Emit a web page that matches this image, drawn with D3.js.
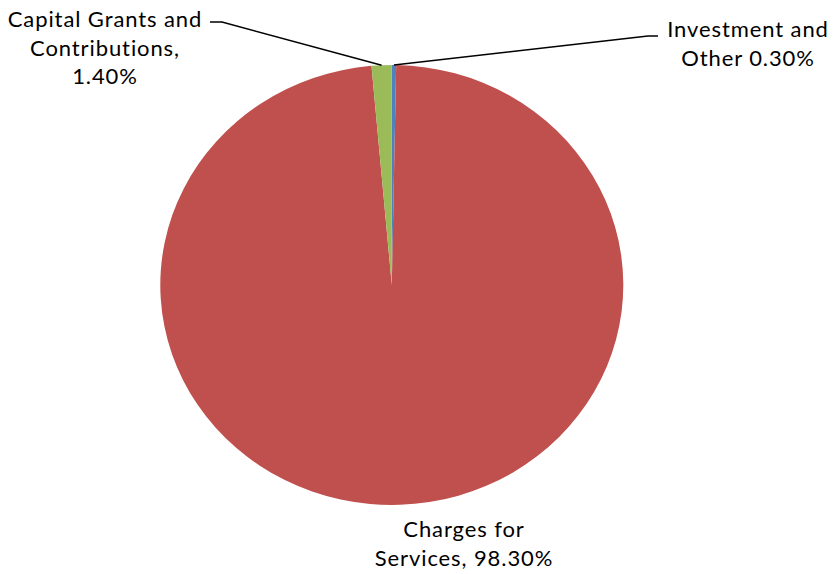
<!DOCTYPE html>
<html>
<head>
<meta charset="utf-8">
<script src="https://cdn.jsdelivr.net/npm/d3@7"></script>
<style>
  body { margin: 0; background: #fff; }
</style>
</head>
<body>
<script>
// Slices in drawing order, clockwise from 12 o'clock
var categories = ["Investment and Other", "Charges for Services", "Capital Grants and Contributions"];
var values = [0.3, 98.3, 1.4];
var colors = ["#4F81BD", "#C0504D", "#9BBB59"];
var labelLines = [
    ["Investment and", "Other 0.30%"],
    ["Charges for", "Services, 98.30%"],
    ["Capital Grants and", "Contributions,", "1.40%"]
];

var svgWidth = 833;
var svgHeight = 574;

var svg = d3.select("body")
    .append("svg")
    .attr("width", svgWidth)
    .attr("height", svgHeight);

// pie is slightly squashed vertically, like the original
var cx = 391.8, cy = 285;
var rx = 231.5, ry = 220;

var pie = d3.pie().sort(null).value(d => d);
var arcs = pie(values);

var arc = d3.arc().innerRadius(0).outerRadius(rx);

var pieGroup = svg.append("g")
    .attr("transform", `translate(${cx}, ${cy}) scale(1, ${ry / rx})`);

pieGroup.selectAll("path")
    .data(arcs)
    .enter()
    .append("path")
    .attr("d", arc)
    .attr("fill", (d, i) => colors[i]);

// point on the rim at the middle of a slice
function rimPoint(d) {
    var a = (d.startAngle + d.endAngle) / 2;
    return [cx + rx * Math.sin(a), cy - ry * Math.cos(a)];
}

// label anchors: [x centre, first baseline]
var labelPos = [[748, 37], [464, 537], [105, 27]];
var lineHeight = 28.5;

labelLines.forEach((lines, i) => {
    var t = svg.append("text")
        .attr("text-anchor", "middle")
        .attr("font-family", "Lato, 'Open Sans', sans-serif")
        .attr("font-size", "22px")
        .attr("letter-spacing", "0.9px")
        .attr("fill", "#000");
    lines.forEach((s, j) => {
        t.append("tspan")
            .attr("x", labelPos[i][0])
            .attr("y", labelPos[i][1] + j * lineHeight)
            .text(s);
    });
});

// leader lines
var inv = rimPoint(arcs[0]);
var cap = rimPoint(arcs[2]);
svg.append("polyline")
    .attr("points", `${inv[0]},${inv[1]} 648,36 658,36`)
    .attr("fill", "none")
    .attr("stroke", "#000")
    .attr("stroke-width", 1.5);
svg.append("polyline")
    .attr("points", `${cap[0]},${cap[1]} 222,22 210,22`)
    .attr("fill", "none")
    .attr("stroke", "#000")
    .attr("stroke-width", 1.5);
</script>
</body>
</html>
